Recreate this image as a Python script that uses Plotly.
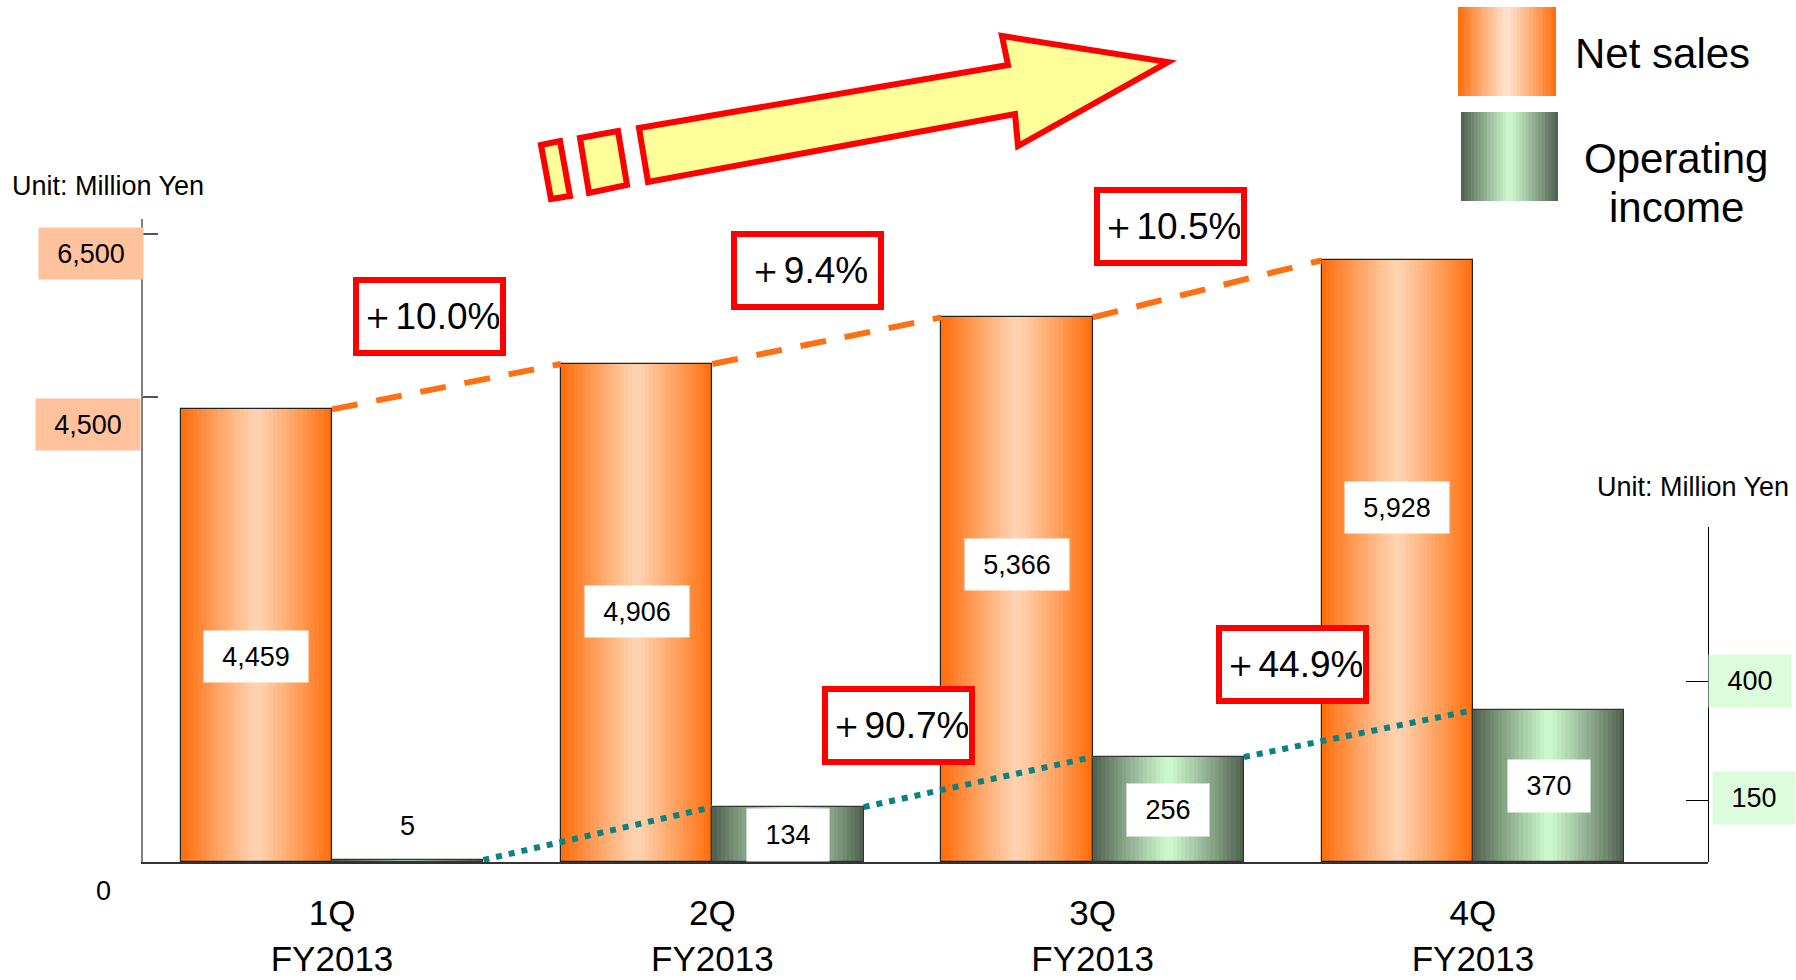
import plotly.graph_objects as go

# ---------------- data ----------------
quarters = ["1Q", "2Q", "3Q", "4Q"]
fiscal_years = ["FY2013", "FY2013", "FY2013", "FY2013"]
net_sales = [4459, 4906, 5366, 5928]
operating_income = [5, 134, 256, 370]
net_sales_growth = ["＋10.0%", "＋9.4%", "＋10.5%"]
op_income_growth = ["＋90.7%", "＋44.9%"]
left_tick_labels = ["4,500", "6,500"]
left_tick_values = [4581, 6187]      # axis is drawn broken in the original
right_tick_labels = ["150", "400"]
right_tick_values = [149, 439]
unit_text = "Unit: Million Yen"
legend_names = ["Net sales", "Operating", "income"]

# ---------------- geometry / style ----------------
W, H = 1796, 980
ML, MR, MT, MB = 143, 88, 219, 118
PW, PH = W - ML - MR, H - MT - MB
BAR_W = 0.398
FONT = "Liberation Sans, Arial, sans-serif"
N_STRIPS = 36


def px(x, y):
    """pixel -> paper coordinates"""
    return (x - ML) / PW, (H - MB - y) / PH


def grad(edge, center, t):
    d = abs(t - 0.5) * 2
    d = d ** 1.1
    return "rgb(%d,%d,%d)" % tuple(round(c + (e - c) * d) for e, c in zip(edge, center))


NS_EDGE, NS_CENTER = (255, 108, 8), (255, 212, 178)
OI_EDGE, OI_CENTER = (78, 94, 78), (206, 250, 206)

xs = list(range(len(quarters)))
fig = go.Figure()

# Net sales bars (gradient strips)
for k in range(N_STRIPS):
    sw = BAR_W / N_STRIPS
    fig.add_trace(go.Bar(
        x=xs, y=net_sales, offset=-BAR_W + k * sw, width=sw * (1.6 if k < N_STRIPS - 1 else 1.0),
        marker=dict(color=grad(NS_EDGE, NS_CENTER, (k + 0.5) / N_STRIPS), line=dict(width=0)),
        showlegend=False, hoverinfo="skip", xaxis="x", yaxis="y"))
fig.add_trace(go.Bar(
    x=xs, y=net_sales, offset=-BAR_W, width=BAR_W,
    marker=dict(color="rgba(0,0,0,0)", line=dict(color="#222", width=1.2)),
    showlegend=False, hoverinfo="skip", xaxis="x", yaxis="y"))

# Net sales trend (dashed orange)
lx, ly = [], []
for i in range(len(net_sales) - 1):
    lx += [xs[i], xs[i + 1] - BAR_W, None]
    ly += [net_sales[i], net_sales[i + 1], None]
fig.add_trace(go.Scatter(x=lx, y=ly, mode="lines", connectgaps=False,
                         line=dict(color="#FF6F14", width=6, dash="26px,19px"),
                         showlegend=False, hoverinfo="skip", xaxis="x", yaxis="y"))

# Operating income bars (gradient strips)
for k in range(N_STRIPS):
    sw = BAR_W / N_STRIPS
    fig.add_trace(go.Bar(
        x=xs, y=operating_income, offset=k * sw, width=sw * (1.6 if k < N_STRIPS - 1 else 1.0),
        marker=dict(color=grad(OI_EDGE, OI_CENTER, (k + 0.5) / N_STRIPS), line=dict(width=0)),
        showlegend=False, hoverinfo="skip", xaxis="x", yaxis="y2"))
fig.add_trace(go.Bar(
    x=xs, y=operating_income, offset=0, width=BAR_W,
    marker=dict(color="rgba(0,0,0,0)", line=dict(color="#333", width=1.2)),
    showlegend=False, hoverinfo="skip", xaxis="x", yaxis="y2"))

# Operating income trend (dotted teal)
tx, ty = [], []
for i in range(len(operating_income) - 1):
    tx += [xs[i] + BAR_W, xs[i + 1], None]
    ty += [operating_income[i], operating_income[i + 1], None]
fig.add_trace(go.Scatter(x=tx, y=ty, mode="lines", connectgaps=False,
                         line=dict(color="#0A8282", width=6, dash="6px,7px"),
                         showlegend=False, hoverinfo="skip", xaxis="x", yaxis="y2"))

ann = []


def add_ann(**kw):
    kw.setdefault("xanchor", "center")
    kw.setdefault("yanchor", "middle")
    kw.setdefault("showarrow", False)
    ann.append(kw)


# value labels
for i, v in enumerate(net_sales):
    add_ann(x=xs[i] - BAR_W / 2, y=v, xref="x", yref="y", yshift=-247,
            text=f"{v:,}", bgcolor="white", width=102, height=49,
            font=dict(family=FONT, size=27, color="black"))
for i, v in enumerate(operating_income):
    if v > 50:
        add_ann(x=xs[i] + BAR_W / 2, y=v / 2, xref="x", yref="y2",
                text=f"{v:,}", bgcolor="white", width=80, height=50,
                font=dict(family=FONT, size=27, color="black"))
    else:
        add_ann(x=xs[i] + BAR_W / 2, y=v, xref="x", yref="y2", yshift=34,
                text=f"{v:,}", font=dict(family=FONT, size=27, color="black"))

# growth boxes
ns_box_px = [(429.5, 316.5), (807.5, 270.5), (1170.5, 226.5)]
oi_box_px = [(898, 725), (1292, 664)]
for txt, (bx, by) in zip(net_sales_growth + op_income_growth, ns_box_px + oi_box_px):
    px_, py_ = px(bx, by)
    add_ann(x=px_, y=py_, xref="paper", yref="paper", text=txt,
            bgcolor="white", bordercolor="#FF0000", borderwidth=6, borderpad=1,
            width=139, height=65,
            font=dict(family=FONT, size=37, color="black"))

# axis tick label boxes
for txt, (bx, by) in zip(left_tick_labels, [(88, 424.5), (91, 253.5)]):
    px_, py_ = px(bx, by)
    add_ann(x=px_, y=py_, xref="paper", yref="paper", text=txt,
            bgcolor="#FFC29C", width=102, height=49,
            font=dict(family=FONT, size=27, color="black"))
for txt, (bx, by) in zip(right_tick_labels, [(1754, 797.5), (1750, 681)]):
    px_, py_ = px(bx, by)
    add_ann(x=px_, y=py_, xref="paper", yref="paper", text=txt,
            bgcolor="#DCFCDC", width=80, height=50,
            font=dict(family=FONT, size=27, color="black"))

# zero label, unit labels
for txt, (bx, by), xa in [("0", (103, 891), "center"), (unit_text, (10, 186), "left"),
                          (unit_text, (1595, 487), "left")]:
    px_, py_ = px(bx, by)
    add_ann(x=px_, y=py_, xref="paper", yref="paper", text=txt,
            xanchor=xa, font=dict(family=FONT, size=27, color="black"))

# legend texts
for txt, (bx, by) in zip(legend_names, [(1662, 53), (1676, 158), (1676, 207)]):
    px_, py_ = px(bx, by)
    add_ann(x=px_, y=py_, xref="paper", yref="paper", text=txt,
            font=dict(family=FONT, size=42, color="black"))

shapes = []
# legend swatches (gradient strips)
for (x0, y0, x1, y1), edge, center in [((1458, 7, 1556, 96), NS_EDGE, (255, 228, 208)),
                                       ((1461, 112, 1558, 201), OI_EDGE, (206, 248, 206))]:
    n = 30
    for k in range(n):
        a0, b0 = px(x0 + (x1 - x0) * k / n, y1)
        a1, b1 = px(x0 + (x1 - x0) * (k + 1.5 if k < n - 1 else k + 1) / n, y0)
        shapes.append(dict(type="rect", xref="paper", yref="paper", x0=a0, y0=b0, x1=a1, y1=b1,
                           fillcolor=grad(edge, center, (k + 0.5) / n), line=dict(width=0),
                           layer="above"))


def path(pts):
    s = ""
    for j, (x, y) in enumerate(pts):
        a, b = px(x, y)
        s += ("M" if j == 0 else "L") + f"{a:.5f},{b:.5f} "
    return s + "Z"


# big yellow arrow
arrow_pts = [(648, 182), (639, 128), (1008, 65), (1002, 36), (1168, 62), (1018, 146), (1015, 114)]
rect2 = [(580, 138), (618, 131), (627, 185), (589, 193)]
rect1 = [(541, 145), (560, 141), (570, 196), (551, 199)]
for pts in (rect1, rect2, arrow_pts):
    shapes.append(dict(type="path", xref="paper", yref="paper", path=path(pts),
                       fillcolor="#FFFF99", line=dict(color="#FF0000", width=6)))

fig.update_layout(
    width=W, height=H, margin=dict(l=ML, r=MR, t=MT, b=MB, pad=0, autoexpand=False),
    paper_bgcolor="white", plot_bgcolor="rgba(0,0,0,0)",
    barmode="overlay", bargap=0, showlegend=False,
    font=dict(family=FONT, color="black"),
    xaxis=dict(range=[-0.497, 3.618], tickvals=xs,
               ticktext=[f"{q}<br>{fy}" for q, fy in zip(quarters, fiscal_years)],
               tickfont=dict(family=FONT, size=35, color="black"), ticks="",
               ticklabelstandoff=19, automargin=False,
               showline=True, linecolor="#333", linewidth=2, showgrid=False, zeroline=False,
               anchor="y"),
    yaxis=dict(range=[0, 6335], tickvals=left_tick_values, showticklabels=False,
               ticks="inside", ticklen=15, tickcolor="#555", tickwidth=1.5, automargin=False,
               showline=True, linecolor="#808080", linewidth=2, showgrid=False, zeroline=False,
               anchor="x"),
    yaxis2=dict(range=[0, 817], domain=[0, 335 / 643], side="right", anchor="x",
                tickvals=right_tick_values, showticklabels=False, automargin=False,
                ticks="inside", ticklen=22, tickcolor="black", tickwidth=1.2,
                showline=True, linecolor="black", linewidth=1.2, showgrid=False, zeroline=False),
    annotations=ann, shapes=shapes,
)

fig.write_html("out.html")
